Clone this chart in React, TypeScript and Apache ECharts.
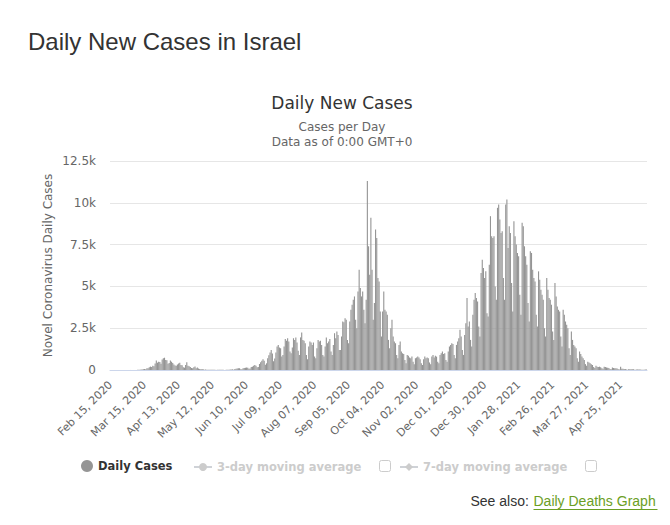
import React, { useEffect, useRef } from "react";
import * as echarts from "echarts";

// Daily new cases, one row per week (each row starts on a Saturday), Feb 15 2020 .. May 17 2021
const dailyCases: number[] = [
  0, 0, 0, 0, 0, 0, 1,
  0, 0, 0, 0, 0, 0, 1,
  0, 0, 1, 2, 3, 4, 5,
  4, 6, 12, 15, 22, 27, 25,
  50, 55, 48, 98, 105, 170, 205,
  177, 260, 230, 390, 570, 440, 495,
  480, 375, 630, 700, 735, 605, 580,
  370, 420, 575, 495, 420, 325, 265,
  250, 330, 385, 440, 300, 280, 170,
  140, 300, 460, 260, 225, 180, 120,
  110, 160, 205, 110, 150, 90, 60,
  40, 60, 42, 22, 35, 20, 15,
  10, 12, 16, 8, 10, 15, 5,
  8, 12, 20, 10, 15, 12, 5,
  5, 10, 15, 20, 25, 30, 40,
  20, 60, 80, 90, 110, 100, 40,
  50, 110, 120, 135, 150, 140, 80,
  90, 180, 200, 250, 300, 260, 160,
  180, 360, 470, 550, 650, 560, 320,
  400, 700, 880, 1050, 1200, 980, 520,
  690, 1050, 1400, 1500, 1350, 1300, 800,
  900, 1400, 1850, 1750, 1900, 1700, 1100,
  1000, 1350, 1900, 1800, 1950, 1650, 1150,
  900, 1950, 2250, 1800, 1750, 1600, 900,
  650, 1400, 1700, 1650, 1500, 1650, 800,
  700, 1300, 1800, 1700, 1750, 1500, 900,
  800, 1400, 1950, 1600, 1700, 1850, 1100,
  900, 1500, 2200, 1900, 2300, 2100, 1200,
  1200, 2000, 2900, 2850, 3100, 3000, 1800,
  1600, 2900, 3600, 3900, 4200, 4400, 3000,
  2500, 4700, 6000, 4900, 4400, 4700, 3600,
  2800, 4200, 11300, 7400, 5700, 9100, 6000,
  3000, 4000, 8400, 7900, 5500, 5300, 3500,
  2000, 3500, 4700, 3600, 3500, 3300, 1800,
  1300, 2500, 3000, 2000, 1700, 1600, 900,
  700, 1500, 1700, 1100, 1000, 950, 600,
  400, 900, 850, 750, 700, 800, 500,
  350, 700, 750, 800, 750, 650, 400,
  300, 650, 800, 700, 750, 700, 450,
  350, 800, 900, 750, 850, 800, 500,
  400, 900, 1000, 1100, 950, 1000, 600,
  500, 1100, 1400, 1500, 1600, 1550, 900,
  700, 1500, 1700, 1900, 2400, 2000, 1200,
  900, 2100, 2800, 4300, 2600, 2900, 1800,
  1400, 3300, 4200, 4600, 4300, 4100, 2600,
  2000, 5800, 6600, 6100, 5500, 5900, 3400,
  3200, 6300, 9200, 8000, 7900, 8000, 5000,
  4200, 9700, 9900, 9000, 8200, 8300, 5500,
  4200, 9900, 10200, 7300, 8600, 8200, 5200,
  3500, 8900, 8000, 7500, 7000, 6800, 4500,
  3300, 8800, 8600, 7400, 6800, 6300, 4000,
  2900, 7100, 7000, 6000, 5500, 5300, 3300,
  2600, 5900, 5400, 4800, 4500, 4200, 2500,
  2000, 5500, 4800, 4300, 4200, 3900, 2300,
  1800, 5200, 4400, 3800, 3600, 3500, 2000,
  1400, 3600, 3300, 2900, 2700, 2500, 1300,
  900, 2300, 1800, 1500, 1400, 1300, 700,
  500, 1100, 950, 800, 700, 600, 350,
  250, 500, 450, 400, 350, 300, 180,
  120, 250, 200, 180, 200, 170, 100,
  80, 200, 180, 150, 130, 120, 60,
  50, 150, 120, 110, 100, 90, 40,
  30, 200, 80, 70, 60, 60, 30,
  20, 60, 50, 45, 40, 45, 20,
  15, 40, 35, 30, 25, 20, 10,
  10, 30, 25,
];

const firstDay = { year: 2020, month: 1, day: 15 };
const monthNames = ["Jan", "Feb", "Mar", "Apr", "May", "Jun", "Jul", "Aug", "Sep", "Oct", "Nov", "Dec"];
const yTickLabels = ["0", "2.5k", "5k", "7.5k", "10k", "12.5k"];
const seriesNames = ["Daily Cases", "3-day moving average", "7-day moving average"];
const movingAvg3: number[] = [];
const movingAvg7: number[] = [];

function buildCategories(n: number): string[] {
  const out: string[] = [];
  const t0 = Date.UTC(firstDay.year, firstDay.month, firstDay.day);
  for (let i = 0; i < n; i++) {
    const d = new Date(t0 + i * 86400000);
    const dd = String(d.getUTCDate()).padStart(2, "0");
    out.push(`${monthNames[d.getUTCMonth()]} ${dd}, ${d.getUTCFullYear()}`);
  }
  return out;
}

const categories = buildCategories(dailyCases.length);
const FONT = "DejaVu Sans";
const legendSelected = { [seriesNames[1]]: false, [seriesNames[2]]: false };
const legendText = { fontFamily: FONT, fontSize: 11.5, fontWeight: "bold", color: "#333" };

export default function App() {
  const ref = useRef<HTMLDivElement>(null);
  useEffect(() => {
    if (!ref.current) return;
    const chart = echarts.init(ref.current, null, { renderer: "svg" });
    chart.setOption({
      animation: false,
      backgroundColor: "#fff",
      grid: { left: 110, right: 23, top: 161, bottom: 155, containLabel: false },
      tooltip: { show: false },
      legend: [
        {
          data: [{ name: seriesNames[0], icon: "circle" }],
          left: 76, top: 455, padding: 5, itemWidth: 12, itemHeight: 12, itemGap: 0,
          textStyle: legendText,
          selected: legendSelected,
        },
        {
          data: [seriesNames[1]],
          left: 188, top: 456, padding: 5, itemWidth: 18, itemHeight: 10,
          textStyle: legendText,
          inactiveColor: "#ccc",
          selected: legendSelected,
        },
        {
          data: [seriesNames[2]],
          left: 394, top: 456, padding: 5, itemWidth: 18, itemHeight: 10,
          textStyle: legendText,
          inactiveColor: "#ccc",
          selected: legendSelected,
        },
      ],
      xAxis: {
        type: "category",
        data: categories,
        boundaryGap: true,
        axisLine: { show: true, lineStyle: { color: "#ccd6eb", width: 1 } },
        axisTick: { show: false },
        axisLabel: {
          interval: 28,
          rotate: 45,
          margin: 13,
          color: "#666",
          fontFamily: FONT,
          fontSize: 11,
        },
        splitLine: { show: false },
      },
      yAxis: {
        type: "value",
        min: 0,
        max: 12500,
        interval: 2500,
        name: "Novel Coronavirus Daily Cases",
        nameLocation: "middle",
        nameRotate: 90,
        nameGap: 56,
        nameMoveOverlap: false,
        nameTextStyle: { color: "#666", fontFamily: FONT, fontSize: 12 },
        axisLine: { show: false },
        axisTick: { show: false },
        axisLabel: {
          margin: 14,
          color: "#666",
          fontFamily: FONT,
          fontSize: 12,
          formatter: (v: number) => yTickLabels[Math.round(v / 2500)] ?? "",
        },
        splitLine: { lineStyle: { color: "#e6e6e6", width: 1 } },
      },
      series: [
        {
          name: seriesNames[0],
          type: "bar",
          data: dailyCases,
          barCategoryGap: "5%",
          itemStyle: { color: "#959595" },
          emphasis: { disabled: true },
        },
        {
          name: seriesNames[1],
          type: "line",
          data: movingAvg3,
          symbol: "circle",
          itemStyle: { color: "#ccc" },
          lineStyle: { color: "#ccc" },
        },
        {
          name: seriesNames[2],
          type: "line",
          data: movingAvg7,
          symbol: "diamond",
          itemStyle: { color: "#ccc" },
          lineStyle: { color: "#ccc" },
        },
      ],
      graphic: [
        {
          type: "text", left: 28, top: 29,
          style: { text: "Daily New Cases in Israel", fontFamily: "Liberation Sans", fontSize: 24, fill: "#333" },
        },
        {
          type: "text", x: 342, y: 103,
          style: { text: "Daily New Cases", fontFamily: FONT, fontSize: 17, fill: "#333", align: "center", verticalAlign: "middle" },
        },
        {
          type: "text", x: 342, y: 127,
          style: { text: "Cases per Day", fontFamily: FONT, fontSize: 12, fill: "#666", align: "center", verticalAlign: "middle" },
        },
        {
          type: "text", x: 342, y: 142,
          style: { text: "Data as of 0:00 GMT+0", fontFamily: FONT, fontSize: 12, fill: "#666", align: "center", verticalAlign: "middle" },
        },
        {
          type: "rect", shape: { x: 379.5, y: 460.5, width: 11, height: 11, r: 2 },
          style: { fill: "#fff", stroke: "#ccc", lineWidth: 1 },
        },
        {
          type: "rect", shape: { x: 585.5, y: 460.5, width: 11, height: 11, r: 2 },
          style: { fill: "#fff", stroke: "#ccc", lineWidth: 1 },
        },
        {
          type: "group", right: 10, top: 494,
          children: [
            {
              type: "text", x: 0, y: 0,
              style: { text: "See also: ", fontFamily: "Liberation Sans", fontSize: 14, fill: "#333" },
            },
            {
              type: "text", x: 63, y: 0,
              style: { text: "Daily Deaths Graph", fontFamily: "Liberation Sans", fontSize: 14, fill: "#6b9e24" },
            },
            {
              type: "line", shape: { x1: 63, y1: 15.5, x2: 187, y2: 15.5 },
              style: { stroke: "#6b9e24", lineWidth: 1 },
            },
          ],
        },
      ],
    });
    return () => chart.dispose();
  }, []);
  return <div ref={ref} style={{ position: "absolute", left: 0, top: 0, width: 670, height: 525 }} />;
}
